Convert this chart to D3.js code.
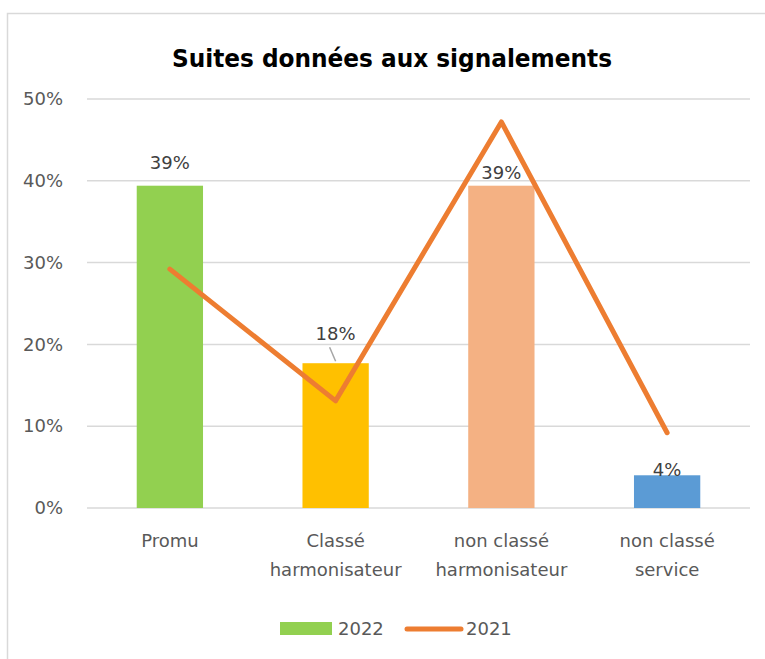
<!DOCTYPE html>
<html>
<head>
<meta charset="utf-8">
<script src="https://cdn.jsdelivr.net/npm/d3@7"></script>
<style>
  body { margin: 0; background: #fff; }
  text { font-family: "DejaVu Sans", sans-serif; }
</style>
</head>
<body>
<div id="chart"></div>
<script>
// Data
const categories = ["Promu", "Classé harmonisateur", "non classé harmonisateur", "non classé service"];
const catLines = [["Promu"], ["Classé", "harmonisateur"], ["non classé", "harmonisateur"], ["non classé", "service"]];
const values2022 = [0.394, 0.177, 0.394, 0.04];
const labels2022 = ["39%", "18%", "39%", "4%"];
const values2021 = [0.292, 0.131, 0.472, 0.092];
const barColors = ["#92D050", "#FFC000", "#F4B183", "#5B9BD5"];
const yTicks = [0, 0.1, 0.2, 0.3, 0.4, 0.5];

const width = 765, height = 659;
const margin = { left: 87, right: 15, top: 99, bottom: 151 };
const FONT = "\"DejaVu Sans\", sans-serif";

const svg = d3.select("#chart").append("svg")
  .attr("width", width)
  .attr("height", height);

// chart frame
svg.append("rect")
  .attr("x", 7.5).attr("y", 13.5)
  .attr("width", 800).attr("height", 700)
  .attr("fill", "none")
  .attr("stroke", "#d9d9d9")
  .attr("stroke-width", 1.5);

// title
svg.append("text")
  .attr("x", 392).attr("y", 67)
  .attr("text-anchor", "middle")
  .attr("font-family", "\"Open Sans\", sans-serif")
  .attr("font-size", 24)
  .attr("font-weight", "bold")
  .attr("fill", "#000")
  .attr("textLength", 440)
  .attr("lengthAdjust", "spacingAndGlyphs")
  .text("Suites données aux signalements");

const x = d3.scaleBand()
  .domain(categories)
  .range([margin.left, width - margin.right])
  .paddingInner(0.6).paddingOuter(0.3);

const y = d3.scaleLinear()
  .domain([0, 0.5])
  .range([height - margin.bottom, margin.top]);

// grid
svg.append("g").selectAll("line")
  .data(yTicks)
  .join("line")
  .attr("x1", margin.left).attr("x2", width - margin.right)
  .attr("y1", d => y(d)).attr("y2", d => y(d))
  .attr("stroke", "#d9d9d9")
  .attr("stroke-width", 1.5);

// y axis labels
const yAxis = d3.axisLeft(y).tickValues(yTicks).tickFormat(d3.format(".0%")).tickSize(0).tickPadding(0);
svg.append("g")
  .attr("transform", `translate(${margin.left - 24},0)`)
  .call(yAxis)
  .call(g => g.select(".domain").remove())
  .selectAll("text")
  .attr("font-size", 18)
  .attr("fill", "#595959")
  .attr("font-family", FONT);

// bars
svg.append("g").selectAll("rect")
  .data(values2022)
  .join("rect")
  .attr("x", (d, i) => x(categories[i]))
  .attr("y", d => y(d))
  .attr("width", x.bandwidth())
  .attr("height", d => y(0) - y(d))
  .attr("fill", (d, i) => barColors[i]);

// leader line for 18%
svg.append("line")
  .attr("x1", x(categories[1]) + x.bandwidth() / 2 - 6)
  .attr("y1", y(values2022[1]) - 16)
  .attr("x2", x(categories[1]) + x.bandwidth() / 2)
  .attr("y2", y(values2022[1]) - 2)
  .attr("stroke", "#a6a6a6")
  .attr("stroke-width", 1.5);

// 2021 line
const line = d3.line()
  .x((d, i) => x(categories[i]) + x.bandwidth() / 2)
  .y(d => y(d));

svg.append("path")
  .datum(values2021)
  .attr("d", line)
  .attr("fill", "none")
  .attr("stroke", "#ED7D31")
  .attr("stroke-width", 5)
  .attr("stroke-linejoin", "round")
  .attr("stroke-linecap", "round");

// data labels (offsets from bar top)
const labelOffsets = [-17, -23, -7, 1];
svg.append("g").selectAll("text")
  .data(values2022)
  .join("text")
  .attr("x", (d, i) => x(categories[i]) + x.bandwidth() / 2)
  .attr("y", (d, i) => y(d) + labelOffsets[i])
  .attr("text-anchor", "middle")
  .attr("font-size", 18)
  .attr("fill", "#404040")
  .text((d, i) => labels2022[i]);

// x labels
const xl = svg.append("g").selectAll("text")
  .data(categories)
  .join("text")
  .attr("x", d => x(d) + x.bandwidth() / 2)
  .attr("y", 547)
  .attr("text-anchor", "middle")
  .attr("font-size", 18)
  .attr("fill", "#595959");
xl.selectAll("tspan")
  .data((d, i) => catLines[i])
  .join("tspan")
  .attr("x", function () { return this.parentNode.getAttribute("x"); })
  .attr("dy", (d, j) => j === 0 ? 0 : 29)
  .text(d => d);

// legend
const leg = svg.append("g");
leg.append("rect")
  .attr("x", 280).attr("y", 622)
  .attr("width", 52).attr("height", 13)
  .attr("fill", barColors[0]);
leg.append("text")
  .attr("x", 338).attr("y", 635)
  .attr("font-size", 18).attr("fill", "#595959")
  .text("2022");
leg.append("line")
  .attr("x1", 407).attr("x2", 461)
  .attr("y1", 629).attr("y2", 629)
  .attr("stroke", "#ED7D31")
  .attr("stroke-width", 5)
  .attr("stroke-linecap", "round");
leg.append("text")
  .attr("x", 466).attr("y", 635)
  .attr("font-size", 18).attr("fill", "#595959")
  .text("2021");
</script>
</body>
</html>
